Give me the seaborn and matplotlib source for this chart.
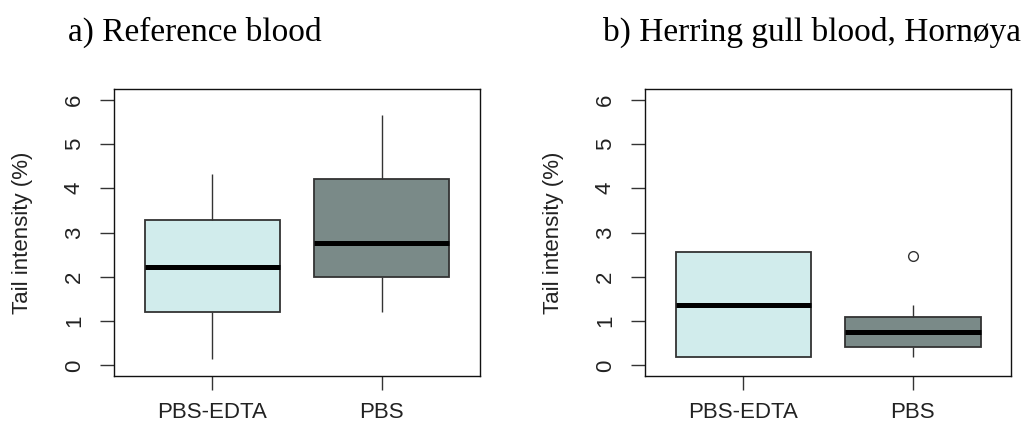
import matplotlib
matplotlib.use("Agg")
import matplotlib.pyplot as plt
import seaborn as sns
import pandas as pd

# Tail intensity (%) per storage buffer
groups = ["PBS-EDTA", "PBS"]
ref_edta = [0.15, 1.21, 2.23, 3.28, 4.33]
ref_pbs = [1.20, 1.99, 2.77, 4.21, 5.66]
gull_edta = [0.18, 0.18, 1.37, 2.56, 2.56]
gull_pbs = [0.20, 0.35, 0.42, 0.60, 0.75, 0.95, 1.10, 1.37, 2.47]

titles = ["a) Reference blood", "b) Herring gull blood, Hornøya"]
ylabel = "Tail intensity (%)"
yticks = [0, 1, 2, 3, 4, 5, 6]
fills = ["#D1ECEC", "#7A8A88"]

sns.set_style("ticks")
plt.rcParams["font.family"] = ["Liberation Sans", "DejaVu Sans"]


def frame(a, b):
    return pd.DataFrame({
        "buffer": [groups[0]] * len(a) + [groups[1]] * len(b),
        "value": list(a) + list(b),
    })


panels = [frame(ref_edta, ref_pbs), frame(gull_edta, gull_pbs)]

fig = plt.figure(figsize=(10.24, 4.26), dpi=100)
lefts = [114 / 1024, 645 / 1024]
title_x = [68 / 1024, 603 / 1024]
ink = "#222222"

for i, df in enumerate(panels):
    ax = fig.add_axes([lefts[i], 50 / 426, 366 / 1024, 287 / 426])
    sns.boxplot(
        data=df, x="buffer", y="value", hue="buffer", order=groups,
        hue_order=groups, palette=fills, saturation=1, width=0.8,
        legend=False, ax=ax, showcaps=False, linecolor="#333333",
        linewidth=1.3,
        medianprops=dict(color="black", linewidth=3.6),
        whiskerprops=dict(color="#333333", linewidth=1.0),
        flierprops=dict(marker="o", markersize=7, markerfacecolor="none",
                        markeredgecolor="#333333", markeredgewidth=1.0),
    )
    ax.set_xlim(-0.58, 1.58)
    ax.set_ylim(-0.24, 6.24)
    ax.set_yticks(yticks)
    ax.set_yticklabels([str(t) for t in yticks], rotation=90, va="center")
    ax.set_xlabel("")
    ax.set_ylabel(ylabel, fontsize=16, color=ink)
    ax.yaxis.label.set_va("center")
    ax.yaxis.set_label_coords(-0.25, 0.5)
    for s in ax.spines.values():
        s.set_visible(True)
        s.set_color("#111111")
        s.set_linewidth(1.0)
    ax.tick_params(axis="y", length=10, width=1, color="#333333",
                   labelsize=16, labelcolor=ink, pad=11)
    ax.tick_params(axis="x", length=10, width=1, color="#333333",
                   labelsize=16, labelcolor=ink, pad=9)
    fig.text(title_x[i], 1 - 41 / 426, titles[i], ha="left", va="baseline",
             family="Liberation Serif", fontsize=24, color="black")

fig.savefig("out.png", dpi=100)
